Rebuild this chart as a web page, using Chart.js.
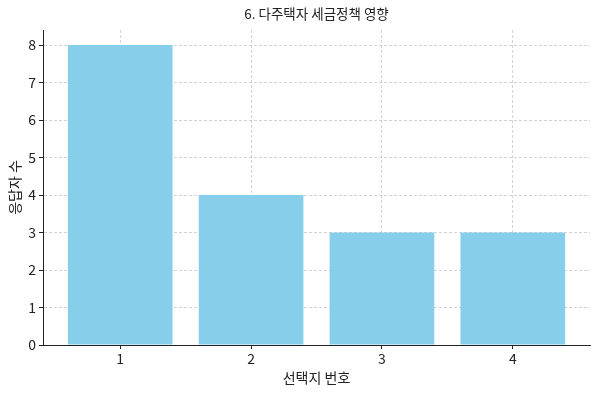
<!DOCTYPE html>
<html>
<head>
<meta charset="utf-8">
<script src="https://cdn.jsdelivr.net/npm/chart.js@4.4.0/dist/chart.umd.min.js"></script>
<style>
    html, body { margin: 0; padding: 0; background: #fff; }
    #wrap { width: 600px; height: 394px; }
</style>
</head>
<body>
<div id="wrap"><canvas id="chart"></canvas></div>
<script>
// Chart data
const choices = [1, 2, 3, 4];
const counts = [8, 4, 3, 3];
const yTicks = [0, 1, 2, 3, 4, 5, 6, 7, 8];

const FONT = "'Noto Sans CJK KR', 'Noto Sans', sans-serif";
const gridColor = 'rgba(176, 176, 176, 0.7)';
const axisColor = '#222222';

document.addEventListener('DOMContentLoaded', function() {
    const ctx = document.getElementById('chart');

    new Chart(ctx, {
        type: 'bar',
        data: {
            datasets: [{
                data: choices.map((c, i) => ({ x: c, y: counts[i] })),
                backgroundColor: '#87CEEB',
                borderWidth: 0,
                categoryPercentage: 0.8,
                barPercentage: 1.0
            }]
        },
        options: {
            responsive: true,
            maintainAspectRatio: false,
            animation: false,
            layout: { padding: { left: 0, right: 10, top: 0, bottom: 0 } },
            plugins: {
                legend: { display: false },
                tooltip: { enabled: false },
                title: {
                    display: true,
                    text: '6. 다주택자 세금정책 영향',
                    fullSize: false,
                    color: axisColor,
                    font: { family: FONT, size: 13.5, weight: 'normal' },
                    padding: { top: 6, bottom: 7.8 }
                }
            },
            scales: {
                x: {
                    type: 'linear',
                    min: 0.41,
                    max: 4.59,
                    offset: false,
                    z: 1,
                    afterBuildTicks: function(scale) {
                        scale.ticks = choices.map(v => ({ value: v }));
                    },
                    afterFit: function(scale) {
                        scale.height = 49;
                    },
                    grid: {
                        offset: false,
                        color: gridColor,
                        lineWidth: 0.8,
                        drawTicks: true,
                        tickLength: 4,
                        tickColor: axisColor,
                        tickWidth: 1
                    },
                    border: { display: true, color: axisColor, width: 1, dash: [3, 2] },
                    ticks: {
                        color: axisColor,
                        padding: 1,
                        font: { family: FONT, size: 14 },
                        callback: v => String(v)
                    },
                    title: {
                        display: true,
                        text: '선택지 번호',
                        color: axisColor,
                        font: { family: FONT, size: 14 },
                        padding: { top: 3, bottom: 7.5 }
                    }
                },
                y: {
                    min: 0,
                    max: 8.4,
                    z: 1,
                    afterBuildTicks: function(scale) {
                        scale.ticks = yTicks.map(v => ({ value: v }));
                    },
                    afterFit: function(scale) {
                        scale.width = 43;
                    },
                    grid: {
                        color: gridColor,
                        lineWidth: 0.8,
                        drawTicks: true,
                        tickLength: 4,
                        tickColor: axisColor,
                        tickWidth: 1
                    },
                    border: { display: true, color: axisColor, width: 1, dash: [3, 2] },
                    ticks: {
                        color: axisColor,
                        padding: 3,
                        font: { family: FONT, size: 14 },
                        callback: v => String(v)
                    },
                    title: {
                        display: true,
                        text: '응답자 수',
                        color: axisColor,
                        font: { family: FONT, size: 14 },
                        padding: { top: 6, bottom: 0 }
                    }
                }
            }
        }
    });
});
</script>
</body>
</html>
